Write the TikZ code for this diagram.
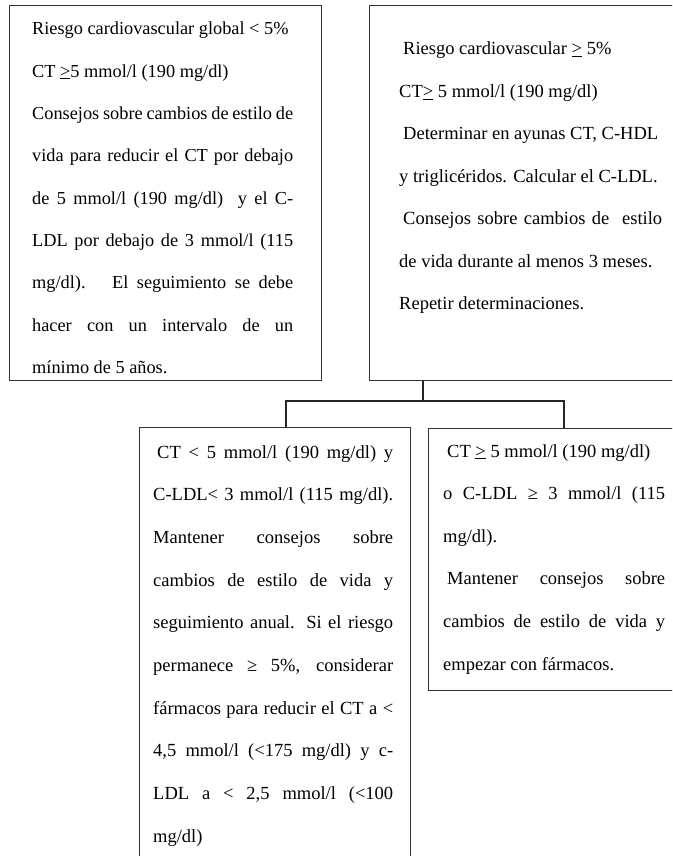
\documentclass[tikz,border=0pt]{standalone}
\usepackage{fontspec}
\setmainfont{Liberation Serif}
\newcommand{\jl}[1]{\makebox[\linewidth][s]{#1}\par}
\newcommand{\nl}[1]{\makebox[\linewidth][l]{#1}\par}
\newcommand{\uge}{\underline{>}}
\tikzset{
  box/.style={draw=black!80, line width=1.4pt, inner sep=0pt, anchor=north west},
  conn/.style={draw=black!85, line width=2pt},
  txt/.style={anchor=base west, inner sep=0pt, align=left},
}
\begin{document}
\begin{tikzpicture}[x=1pt,y=-1pt]
\useasboundingbox (0,0) rectangle (672,856);
\clip (0,0) rectangle (672,856);
\node[box, minimum width=312pt, minimum height=375pt] (b1) at (8.5,5) {};
\node[box, minimum width=330pt, minimum height=375pt] (b2) at (369,5) {};
\node[box, minimum width=271pt, minimum height=460pt] (b3) at (139,427) {};
\node[box, minimum width=270pt, minimum height=262pt] (b4) at (428,428) {};
\coordinate (j) at (423,401);
\coordinate (jl) at (286,401);
\coordinate (jr) at (564,401);
\draw[conn] (j |- b2.south) -- (j);
\draw[conn] (jl |- b3.north) -- (jl) -- (jr) -- (jr |- b4.north);

\node[txt] (t1) at (32,35) {\parbox[t]{261pt}{\fontsize{18.3}{42.3}\selectfont
\nl{Riesgo cardiovascular global < 5\%}
\nl{CT \uge5 mmol/l (190 mg/dl)}
\jl{Consejos sobre cambios de estilo de}
\jl{vida para reducir el CT por debajo}
\jl{de 5 mmol/l (190 mg/dl) \ y el C-}
\jl{LDL por debajo de 3 mmol/l (115}
\jl{mg/dl). \ El seguimiento se debe}
\jl{hacer con un intervalo de un}
\nl{mínimo de 5 años.}}};

\node[txt] (t2) at (399,55) {\parbox[t]{263pt}{\fontsize{18.5}{42.5}\selectfont
\nl{\hspace{4pt}Riesgo cardiovascular \uge{} 5\%}
\nl{CT\uge{} 5 mmol/l (190 mg/dl)}
\nl{\hspace{4pt}Determinar en ayunas CT, C-HDL}
\nl{y triglicéridos. Calcular el C-LDL.}
\jl{\hspace{4pt}Consejos sobre cambios de \ estilo}
\nl{de vida durante al menos 3 meses.}
\nl{Repetir determinaciones.}}};

\node[txt] (t3) at (153,458) {\parbox[t]{240pt}{\fontsize{18.5}{42.7}\selectfont
\jl{\hspace{4pt}CT < 5 mmol/l (190 mg/dl) y}
\jl{C-LDL< 3 mmol/l (115 mg/dl).}
\jl{Mantener consejos sobre}
\jl{cambios de estilo de vida y}
\jl{seguimiento anual. Si el riesgo}
\jl{permanece ≥ 5\%, considerar}
\jl{fármacos para reducir el CT a <}
\jl{4,5 mmol/l (<175 mg/dl) y c-}
\jl{LDL a < 2,5 mmol/l (<100}
\nl{mg/dl)}}};

\node[txt] (t4) at (443,457) {\parbox[t]{222pt}{\fontsize{18.5}{42.6}\selectfont
\nl{\hspace{4pt}CT \uge{} 5 mmol/l (190 mg/dl)}
\jl{o C-LDL ≥ 3 mmol/l (115}
\nl{mg/dl).}
\jl{\hspace{4pt}Mantener consejos sobre}
\jl{cambios de estilo de vida y}
\nl{empezar con fármacos.}}};
\end{tikzpicture}
\end{document}
